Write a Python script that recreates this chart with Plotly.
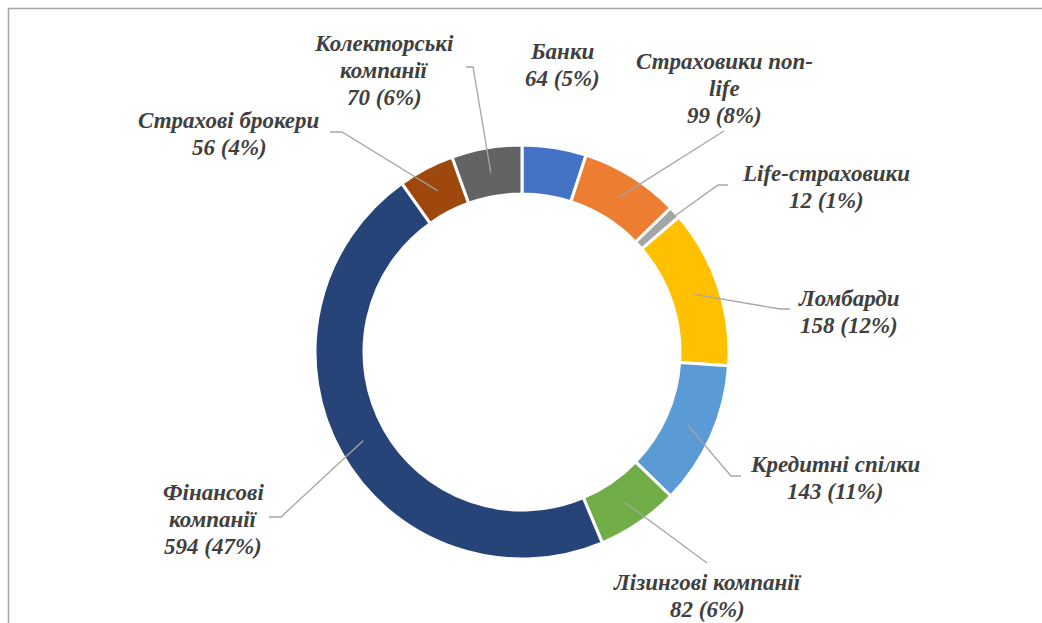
import math
import plotly.graph_objects as go

# ---------------- data ----------------
categories = ["Банки", "Страховики non-life", "Life-страховики", "Ломбарди",
              "Кредитні спілки", "Лізингові компанії", "Фінансові компанії",
              "Страхові брокери", "Колекторські компанії"]
counts = [64, 99, 12, 158, 143, 82, 594, 56, 70]
percents = [5, 8, 1, 12, 11, 6, 47, 4, 6]
label_lines = [["Банки"], ["Страховики non-", "life"], ["Life-страховики"], ["Ломбарди"],
               ["Кредитні спілки"], ["Лізингові компанії"], ["Фінансові", "компанії"],
               ["Страхові брокери"], ["Колекторські", "компанії"]]

# ---------------- style / layout ----------------
colors = ["#4472C4", "#ED7D31", "#A5A5A5", "#FFC000", "#5B9BD5",
          "#70AD47", "#264478", "#9E480E", "#636363"]
W, H = 1042, 623
CX, CY = 522, 352
R_OUT, R_IN = 207, 158
R_LEAD = (R_OUT + R_IN) / 2 - 0.5
FS = 23
LINE_GAP = 27
TEXT_COLOR = "#404040"
LEADER_COLOR = "#A6A6A6"

# label placement: (x center, baseline of first line)
label_pos = [(562, 58), (724, 68), (826, 180), (849, 305), (835, 471),
             (707, 589), (213, 499), (229, 127), (384, 50)]
# leader polyline points after the slice anchor (None = no leader)
leader_pts = [None,
              [(724, 131)],
              [(718, 185), (728, 185)],
              [(780, 309), (790, 309)],
              [(731, 476), (741, 476)],
              [(707, 563)],
              [(281, 517), (269, 517)],
              [(342, 132), (330, 132)],
              [(473, 67), (466, 67)]]

fig = go.Figure()

fig.add_trace(go.Pie(
    labels=categories, values=counts, sort=False, direction="clockwise", rotation=0,
    hole=R_IN / R_OUT, textinfo="none", hoverinfo="skip", showlegend=False,
    marker=dict(colors=colors, line=dict(color="white", width=3)),
    domain=dict(x=[(CX - R_OUT) / W, (CX + R_OUT) / W],
                y=[(H - CY - R_OUT) / H, (H - CY + R_OUT) / H]),
))

# invisible helper axes in pixel coordinates
fig.add_trace(go.Scatter(x=[0, W], y=[0, H], mode="markers",
                         marker=dict(opacity=0), hoverinfo="skip", showlegend=False))

shapes = []
annotations = []
total = sum(counts)
cum = 0
for i, v in enumerate(counts):
    mid = (cum + v / 2) / total * 2 * math.pi
    cum += v
    ax = CX + R_LEAD * math.sin(mid)
    ay = CY - R_LEAD * math.cos(mid)
    if leader_pts[i]:
        path = f"M {ax:.1f} {ay:.1f} " + " ".join(f"L {px} {py}" for px, py in leader_pts[i])
        shapes.append(dict(type="path", path=path, xref="x", yref="y", layer="above",
                           line=dict(color=LEADER_COLOR, width=1.3)))
    lines = label_lines[i] + [f"{v} ({percents[i]}%)"]
    lx, by = label_pos[i]
    for k, t in enumerate(lines):
        annotations.append(dict(
            x=lx, y=by + k * LINE_GAP - 0.3 * FS, xref="x", yref="y",
            text=f"<b><i>{t}</i></b>",
            showarrow=False, xanchor="center", yanchor="middle",
            font=dict(family="Liberation Serif", size=FS, color=TEXT_COLOR,
                      weight="bold", style="italic")))

# chart frame (cropped)
shapes.append(dict(type="line", xref="x", yref="y", x0=8, y0=8.5, x1=W + 5, y1=8.5,
                   line=dict(color="#A6A6A6", width=1.5), layer="above"))
shapes.append(dict(type="line", xref="x", yref="y", x0=8.5, y0=8, x1=8.5, y1=H + 5,
                   line=dict(color="#A6A6A6", width=1.5), layer="above"))

fig.update_layout(
    width=W, height=H, margin=dict(l=0, r=0, t=0, b=0),
    paper_bgcolor="white", plot_bgcolor="white",
    xaxis=dict(range=[0, W], visible=False, fixedrange=True),
    yaxis=dict(range=[H, 0], visible=False, fixedrange=True),
    shapes=shapes, annotations=annotations, showlegend=False,
)

fig.write_html("out.html", config={"displayModeBar": False},
               post_script="document.body.style.margin='0px';document.body.style.overflow='hidden';")
